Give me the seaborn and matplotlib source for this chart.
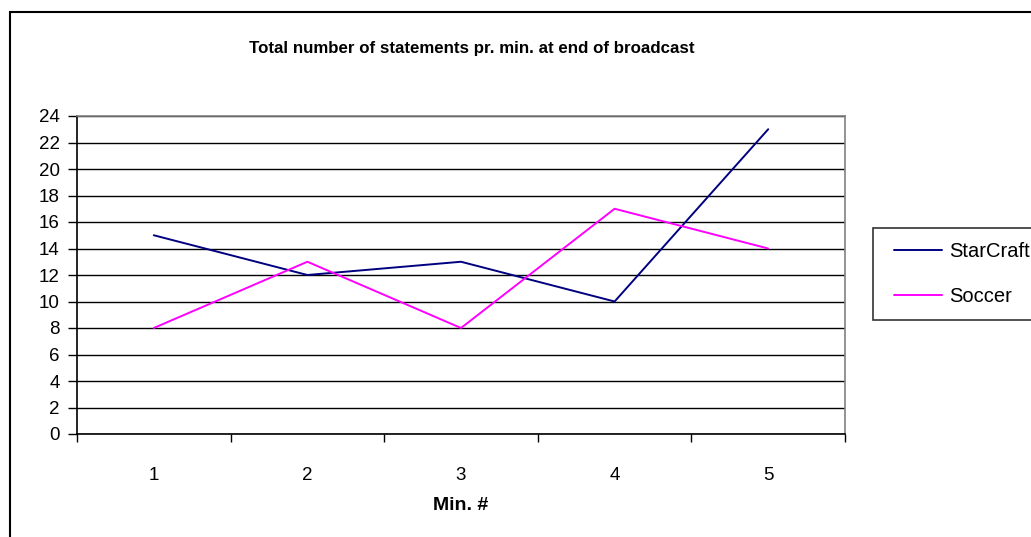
import matplotlib
matplotlib.use("Agg")
import matplotlib.pyplot as plt
from matplotlib.patches import Rectangle
from matplotlib.ticker import FixedLocator, MultipleLocator
from matplotlib.legend_handler import HandlerLine2D
import seaborn as sns
import pandas as pd

minutes = ["1", "2", "3", "4", "5"]
starcraft = [15, 12, 13, 10, 23]
soccer = [8, 13, 8, 17, 14]
series_names = ["StarCraft", "Soccer"]
series_colors = {"StarCraft": "#000080", "Soccer": "#FF00FF"}

df = pd.DataFrame({
    "pos": list(range(len(minutes))) * 2,
    "value": starcraft + soccer,
    "series": [series_names[0]] * len(minutes) + [series_names[1]] * len(minutes),
})

sns.set_theme(style="white")
plt.rcParams["font.family"] = ["Liberation Sans", "DejaVu Sans"]
for key in ("text.color", "axes.labelcolor", "xtick.color", "ytick.color"):
    plt.rcParams[key] = "black"

W, H = 1031, 537
fig = plt.figure(figsize=(W / 100, H / 100), dpi=100)
fig.patch.set_facecolor("white")

# outer chart border (runs off the right and bottom edges)
fig.add_artist(Rectangle((10 / W, -0.1), 1.2, 1 - 12 / H + 0.1,
                         transform=fig.transFigure, fill=False,
                         edgecolor="black", linewidth=1.5, clip_on=False))

ax = fig.add_axes([77 / W, 1 - 434 / H, (845 - 77) / W, (434 - 116) / H])

sns.lineplot(data=df, x="pos", y="value", hue="series", palette=series_colors,
             hue_order=series_names, linewidth=1.4, ax=ax, legend=False,
             estimator=None, sort=False)

ax.set_xlim(-0.5, len(minutes) - 0.5)
ax.set_ylim(0, 24)
ax.yaxis.set_major_locator(MultipleLocator(2))
ax.grid(axis="y", color="black", linewidth=1.0)
ax.set_axisbelow(True)

# category boundaries carry the tick marks, centres carry the labels
ax.xaxis.set_major_locator(FixedLocator([i - 0.5 for i in range(len(minutes) + 1)]))
ax.xaxis.set_minor_locator(FixedLocator(list(range(len(minutes)))))
ax.set_xticklabels([], minor=False)
ax.set_xticklabels(minutes, minor=True)
ax.tick_params(axis="x", which="major", direction="out", length=6, width=1,
               color="black", bottom=True)
ax.tick_params(axis="x", which="minor", length=0, pad=24, labelsize=13.5)
ax.tick_params(axis="y", direction="out", length=6.5, width=1, color="black",
               left=True, pad=6, labelsize=13.5)

for side in ("left", "bottom"):
    ax.spines[side].set_color("black")
    ax.spines[side].set_linewidth(1.2)
for side in ("top", "right"):
    ax.spines[side].set_color("#808080")
    ax.spines[side].set_linewidth(1.2)

ax.set_xlabel("Min. #", fontsize=14, fontweight="bold", labelpad=9)
ax.set_ylabel("")

fig.text(472 / W, 1 - 48 / H, "Total number of statements pr. min. at end of broadcast",
         ha="center", va="center", fontsize=12.2, fontweight="bold")

handles = [plt.Line2D([], [], color=series_colors[n], linewidth=1.4) for n in series_names]
leg = fig.legend(handles, series_names, loc="upper left",
                 bbox_to_anchor=(873 / W, 1 - 228 / H), bbox_transform=fig.transFigure,
                 borderaxespad=0, frameon=True, fancybox=False, fontsize=14.5,
                 handlelength=2.74, handletextpad=0.35, borderpad=0.68,
                 labelspacing=1.3,
                 handler_map={plt.Line2D: HandlerLine2D(xpad=0.35)})
leg.get_frame().set_edgecolor("black")
leg.get_frame().set_linewidth(1.2)

fig.savefig("out.png", dpi=100)
